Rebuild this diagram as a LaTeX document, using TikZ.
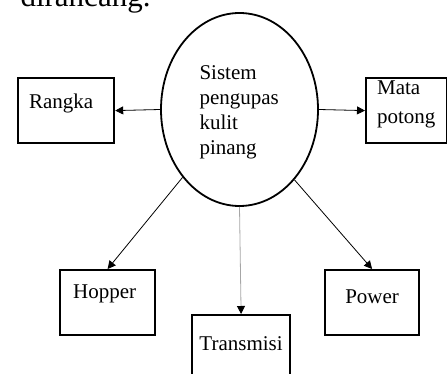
\documentclass[tikz,border=0pt]{standalone}
\usepackage{fontspec}
\setmainfont{Liberation Serif}
\usepackage{tikz}
\usetikzlibrary{arrows.meta, shapes.geometric}

\begin{document}
\begin{tikzpicture}[
  x=1pt, y=-1pt,
  every node/.style={font=\fontsize{21}{25}\selectfont},
  core/.style={ellipse, draw, line width=1.8pt, minimum width=157pt, minimum height=193pt, inner sep=0pt},
  part/.style={rectangle, draw, line width=2.2pt, anchor=north west, inner ysep=0pt},
  linkarr/.style={-{Triangle[length=8pt, width=8pt]}, line width=0.8pt},
  downarr/.style={-{Triangle[length=8pt, width=8pt, color=black]}, line width=0.8pt, color=gray!70},
]
\clip (0,0) rectangle (447,374);
\node[anchor=base west, font=\fontsize{31}{36}\selectfont] (head) at (17,7) {dirancang.};
\node[core, text width=80pt, align=left, text height=20pt, text depth=79pt] (E) at (239.5,109.5) {Sistem\\pengupas\\kulit\\pinang};
\node[part, inner xsep=11pt, text width=74pt, align=left, text height=30pt, text depth=35pt] (rangka) at (17,77) {Rangka};
\node[part, inner xsep=11pt, text width=59pt, align=left, text height=16pt, text depth=49pt, font=\fontsize{21}{29}\selectfont] (mata) at (365,77) {Mata\\potong};
\node[part, inner xsep=13pt, text width=69pt, align=left, text height=28pt, text depth=37pt] (hopper) at (59,269) {Hopper};
\node[part, inner xsep=5pt, text width=84pt, align=center, text height=33pt, text depth=32pt] (power) at (324,269) {Power};
\node[part, inner xsep=0pt, text width=98pt, align=center, text height=35pt, text depth=40pt] (trans) at (191,314) {Transmisi};
\draw[linkarr] (E.west) -- (rangka.east);
\draw[linkarr] (E.east) -- (mata.west);
\draw[linkarr] (E.230) -- (hopper.north);
\draw[linkarr] (E.308) -- (power.north);
\draw[downarr] (E.south) -- (trans.north);
\end{tikzpicture}
\end{document}
